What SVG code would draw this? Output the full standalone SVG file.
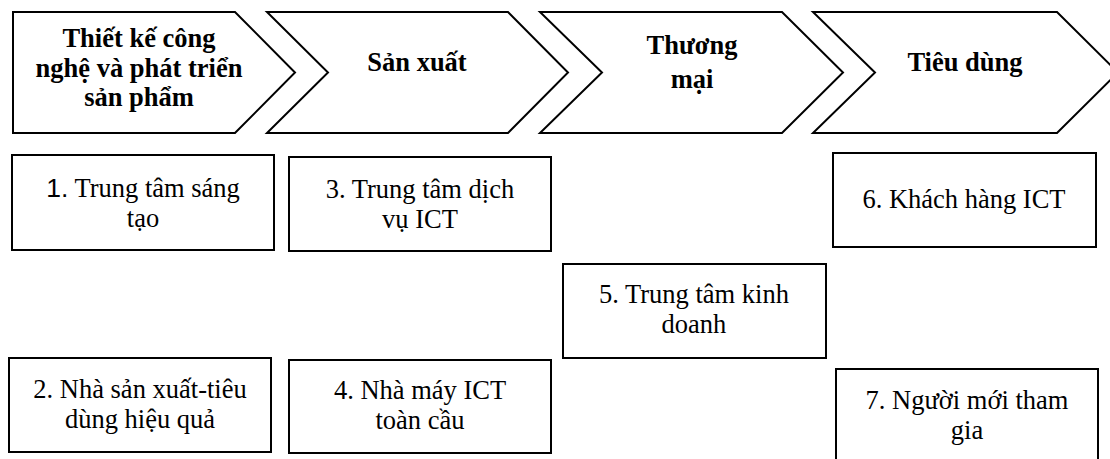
<svg xmlns="http://www.w3.org/2000/svg" width="1110" height="459" viewBox="0 0 1110 459">
<style>
.bg{fill:#ffffff}
.shape{fill:#ffffff;stroke:#000000;stroke-width:2;stroke-linejoin:miter}
text{font-family:'Liberation Serif','Times New Roman','DejaVu Serif',serif;font-size:26.5px;fill:#000000;text-anchor:middle}
.title{font-weight:bold}
.sans{font-family:'Liberation Sans',Arial,sans-serif}
</style>
<rect class="bg" x="0" y="0" width="1110" height="459"/>
<g id="stage-1">
<polygon class="shape" points="13,12 235,12 295,72.5 235,133 13,133"/>
<text class="title" x="139" y="47">Thiết kế công</text>
<text class="title" x="139" y="77">nghệ và phát triển</text>
<text class="title" x="139" y="106">sản phẩm</text>
</g>
<g id="stage-2">
<polygon class="shape" points="267,12 508,12 568,72.5 508,133 267,133 328,72.5"/>
<text class="title" x="417" y="71">Sản xuất</text>
</g>
<g id="stage-3">
<polygon class="shape" points="540,12 782,12 843,72.5 782,133 540,133 602,72.5"/>
<text class="title" x="692" y="54">Thương</text>
<text class="title" x="692" y="88">mại</text>
</g>
<g id="stage-4">
<polygon class="shape" points="813,12 1057,12 1118,72.5 1057,133 813,133 875,72.5"/>
<text class="title" x="965" y="71">Tiêu dùng</text>
</g>
<g id="connectors"></g>
<g id="node-1">
<rect class="shape" x="12" y="155" width="262" height="95"/>
<text x="143" y="197"><tspan class="sans">1.</tspan> Trung tâm sáng</text>
<text x="143" y="227">tạo</text>
</g>
<g id="node-2">
<rect class="shape" x="9" y="358" width="262" height="94"/>
<text x="140" y="398">2. Nhà sản xuất-tiêu</text>
<text x="140" y="428">dùng hiệu quả</text>
</g>
<g id="node-3">
<rect class="shape" x="289" y="157" width="262" height="94"/>
<text x="420" y="198">3. Trung tâm dịch</text>
<text x="420" y="228">vụ ICT</text>
</g>
<g id="node-4">
<rect class="shape" x="289" y="360" width="262" height="93"/>
<text x="420" y="399">4. Nhà máy ICT</text>
<text x="420" y="429">toàn cầu</text>
</g>
<g id="node-5">
<rect class="shape" x="563" y="264" width="263" height="94"/>
<text x="694" y="303">5. Trung tâm kinh</text>
<text x="694" y="333">doanh</text>
</g>
<g id="node-6">
<rect class="shape" x="833" y="153" width="263" height="94"/>
<text x="964" y="208">6. Khách hàng ICT</text>
</g>
<g id="node-7">
<rect class="shape" x="836" y="369" width="262" height="100"/>
<text x="967" y="409">7. Người mới tham</text>
<text x="967" y="439">gia</text>
</g>
</svg>
